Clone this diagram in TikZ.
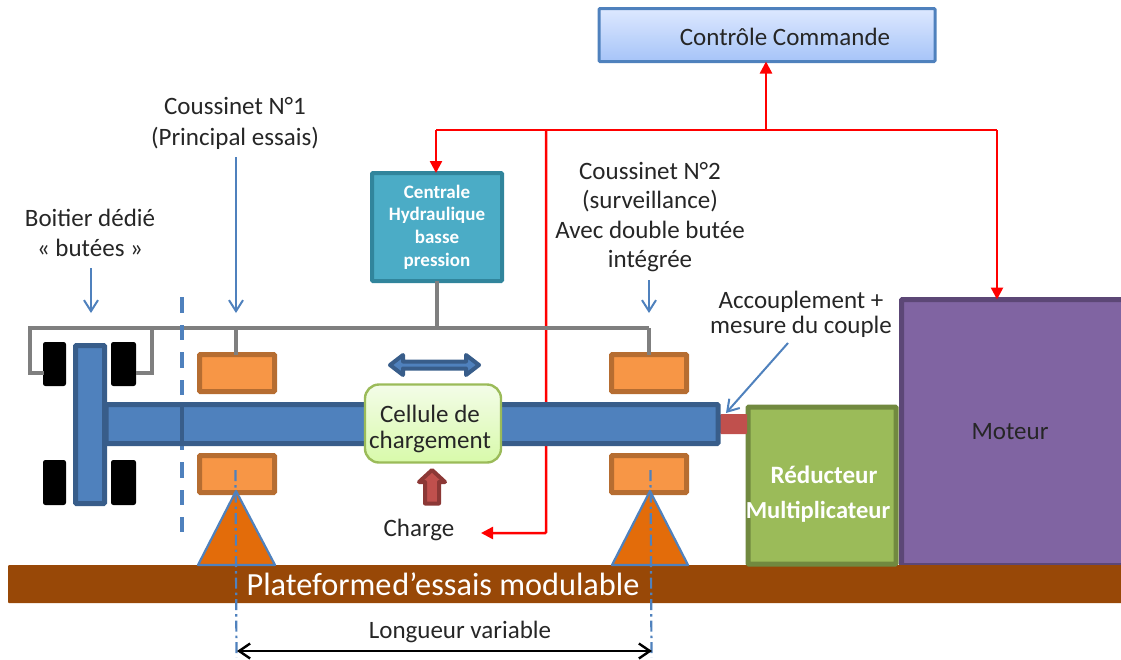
\documentclass[tikz,border=0pt]{standalone}
\usepackage{fontspec}
\setmainfont{Carlito}
\usetikzlibrary{arrows.meta}
\definecolor{lblue}{HTML}{4F81BD}
\definecolor{dblue}{HTML}{385D8A}
\definecolor{ored}{HTML}{F79646}
\definecolor{oredd}{HTML}{B66D31}
\definecolor{tri}{HTML}{E36C0A}
\definecolor{plat}{HTML}{984807}
\definecolor{graybar}{HTML}{7F7F7F}
\definecolor{txt}{HTML}{262626}
\definecolor{ctrltop}{HTML}{DDE8FF}
\definecolor{ctrlbot}{HTML}{A6C4F8}
\definecolor{hydfill}{HTML}{4BACC6}
\definecolor{hyddraw}{HTML}{31859C}
\definecolor{motfill}{HTML}{8064A2}
\definecolor{motdraw}{HTML}{5C4776}
\definecolor{gearfill}{HTML}{9BBB59}
\definecolor{geardraw}{HTML}{71893F}
\definecolor{coupfill}{HTML}{C0504D}
\definecolor{loaddraw}{HTML}{8C3836}
\definecolor{celltop}{HTML}{F3FCE8}
\definecolor{cellbot}{HTML}{D8FAAA}
\tikzset{
  every node/.style={inner sep=0pt,outer sep=0pt,text=txt},
  lab/.style={align=center,font=\fontsize{25}{29.5}\selectfont},
  part/.style={draw,rounded corners=1pt,anchor=north west},
  shaftpart/.style={part,fill=lblue,draw=dblue,line width=5pt},
  bearing/.style={part,fill=ored,draw=oredd,line width=5pt,minimum width=75pt,minimum height=37pt},
  stop/.style={part,fill=black,draw=black,line width=1pt,rounded corners=2pt,minimum width=22pt},
  redline/.style={draw=red,line width=2.5pt},
  redarrow/.style={redline,-{Triangle[length=12pt,width=12pt]}},
  grayline/.style={draw=graybar,line width=4.5pt,line join=miter},
  callout/.style={draw=lblue,line width=2pt,-{Straight Barb[length=11pt,width=14pt,line width=2pt]}},
  center line/.style={draw=lblue,line width=2.2pt,dash pattern=on 11pt off 4pt on 2.5pt off 4pt},
  support/.style={draw=lblue,fill=tri,line width=2.2pt,line join=round},
}
\begin{document}
\begin{tikzpicture}[x=1pt,y=-1pt]
\useasboundingbox (0,0) rectangle (1121,659);

% upper boxes
\node[part,draw=lblue,line width=3pt,top color=ctrltop,bottom color=ctrlbot,
  minimum width=336pt,minimum height=53pt] (ctrl) at (599,8.5) {};
\node[lab] (ctrltxt) at (785,37) {Contrôle Commande};
\node[part,fill=hydfill,draw=hyddraw,line width=4pt,minimum width=130pt,minimum height=108pt,
  align=center,font=\fontsize{19}{22.7}\selectfont\bfseries,text=white] (hyd) at (372,173)
  {\textcolor{white}{Centrale}\\\textcolor{white}{Hydraulique}\\\textcolor{white}{basse}\\\textcolor{white}{pression}};

% motor
\node[part,fill=motfill,draw=motdraw,line width=5pt,minimum width=240pt,minimum height=266pt] (mot) at (901.5,299.5) {};
\node[lab] (mottxt) at (1010,432) {Moteur};

% red network
\coordinate (busL) at (436,130);
\coordinate (busM) at (546,130);
\coordinate (busC) at (766,130);
\coordinate (busR) at (997,130);
\coordinate (chargeEnd) at (481,533);
\coordinate (chargeCorner) at (546,533);
\draw[redline] (busL) -- (busR);
\draw[redarrow] (busC) -- (ctrl.south -| busC);
\draw[redarrow] (busL) -- (hyd.north -| busL);
\draw[redarrow] (busR) -- (mot.north -| busR);
\draw[redarrow,rounded corners=1pt] (busM) -- (chargeCorner) -- (chargeEnd);

% platform
\node[part,draw=none,fill=plat,minimum width=1115pt,minimum height=38pt] (plat) at (8,565) {};
\node[font=\fontsize{32.3}{36}\selectfont,text=white] (plattxt) at (443,584) {\textcolor{white}{Plateforme\kern1pt d’essais modulable}};

% gearbox
\node[part,fill=gearfill,draw=geardraw,line width=5pt,minimum width=148pt,minimum height=157pt] (red) at (748,407) {};
\node[font=\fontsize{25}{28}\selectfont\bfseries,text=white] (redt1) at (824,475) {Réducteur};
\node[font=\fontsize{24.5}{28}\selectfont\bfseries,text=white] (redt2) at (818,512) {Multiplicateur};

% coupling
\node[part,draw=none,fill=coupfill,minimum width=27pt,minimum height=20pt] (coup) at (720,414) {};

% bearings
\node[bearing] (b1u) at (199.5,354.5) {};
\node[bearing] (b1l) at (199.5,455.5) {};
\node[bearing] (b2u) at (611.5,354.5) {};
\node[bearing] (b2l) at (611.5,455.5) {};

% thrust pads
\node[stop,minimum height=43pt] (s1) at (43.5,342.5) {};
\node[stop,minimum width=24pt,minimum height=43pt] (s2) at (111.5,342.5) {};
\node[stop,minimum height=44pt] (s3) at (43.5,460.5) {};
\node[stop,minimum width=24pt,minimum height=44pt] (s4) at (111.5,460.5) {};

% gray oil lines
\coordinate (gL) at (30,328);
\coordinate (gA) at (152,328);
\coordinate (gR) at (649,328);
\coordinate (g1) at (236,328);
\coordinate (gH) at (437,328);
\coordinate (gLb) at (30,373);
\coordinate (gAb) at (152,373);
\draw[grayline] (gR) -- (gL) -- (gLb) -- (gLb -| s1.west);
\draw[grayline] (gA) -- (gAb) -- (gAb -| s2.east);
\draw[grayline] (g1) -- (b1u.north -| g1);
\draw[grayline] (gR) -- (b2u.north -| gR);
\draw[grayline] (hyd.south -| gH) -- (gH);

% dashed separator (beneath the shaft)
\coordinate (sepT) at (182,297);
\coordinate (sepB) at (182,532);
\draw[draw=lblue,line width=4.5pt,dash pattern=on 16pt off 12pt on 15pt off 12pt] (sepT) -- (sepB);

% shaft
\node[shaftpart,minimum width=612pt,minimum height=39pt] (shaft) at (106,404.5) {};
\node[shaftpart,minimum width=29pt,minimum height=158pt] (thrust) at (75.5,345.5) {};
\coordinate (sepS1) at (182,403);
\coordinate (sepS2) at (182,445);
\draw[draw=dblue,line width=3.5pt] (sepS1) -- (sepS2);

% load cell
\node[part,rounded corners=14pt,draw=gearfill,line width=2.4pt,
  top color=celltop,bottom color=cellbot,
  minimum width=136pt,minimum height=78pt] (cell) at (365,384.5) {};
\node[lab,font=\fontsize{25}{26}\selectfont] (celltxt) at (430,429) {Cellule de\\chargement};

% supports
\coordinate (t1a) at (236,491);
\coordinate (t1l) at (198,565);
\coordinate (t1r) at (275,565);
\coordinate (t2a) at (650,491);
\coordinate (t2l) at (612,565);
\coordinate (t2r) at (688,565);
\draw[support] (t1a) -- (t1r) -- (t1l) -- cycle;
\draw[support] (t2a) -- (t2r) -- (t2l) -- cycle;

% centre lines
\coordinate (c1t) at (235.5,470);
\coordinate (c1b) at (236.5,657);
\coordinate (c2t) at (650.5,470);
\coordinate (c2b) at (651.5,657);
\draw[center line] (c1t) -- (c1b);
\draw[center line] (c2t) -- (c2b);

% dimension
\coordinate (d1) at (237,651);
\coordinate (d2) at (652,651);
\draw[draw=black,line width=2.4pt,{Straight Barb[length=11pt,width=15pt,line width=2.4pt]}-{Straight Barb[length=11pt,width=15pt,line width=2.4pt]}] (d1) -- (d2);
\node[lab] (lv) at (460,632) {Longueur variable};

% slide arrow
\draw[draw=dblue,line width=4pt,fill=lblue,line join=round]
  (390,365) -- (403,355) -- (403,361.5) -- (466,361.5) -- (466,355) -- (479,365)
  -- (466,375) -- (466,368.5) -- (403,368.5) -- (403,375) -- cycle;

% load arrow
\draw[draw=loaddraw,line width=4pt,fill=coupfill,line join=round]
  (432,470) -- (445,482) -- (439,482) -- (439,503.5) -- (425,503.5) -- (425,482) -- (419,482) -- cycle;
\node[lab] (chg) at (419,530) {Charge};

% labels and callouts
\node[lab,font=\fontsize{25}{31}\selectfont] (c1txt) at (235,123) {Coussinet N°1\\(Principal essais)};
\coordinate (a1s) at (236,157);
\coordinate (a1e) at (236,313);
\draw[callout] (a1s) -- (a1e);
\node[lab] (boit) at (90,233) {Boitier dédié\\« butées »};
\coordinate (a2s) at (91,268);
\coordinate (a2e) at (91,313);
\draw[callout] (a2s) -- (a2e);
\node[lab] (c2txt) at (650,217) {Coussinet N°2\\(surveillance)\\Avec double butée\\intégrée};
\coordinate (a3s) at (649,280);
\coordinate (a3e) at (649,313);
\draw[callout] (a3s) -- (a3e);
\node[lab,font=\fontsize{25}{25}\selectfont] (acc) at (801,314.5) {Accouplement +\\mesure du couple};
\coordinate (a4s) at (788,343);
\coordinate (a4e) at (726,413);
\draw[callout] (a4s) -- (a4e);
\end{tikzpicture}
\end{document}
